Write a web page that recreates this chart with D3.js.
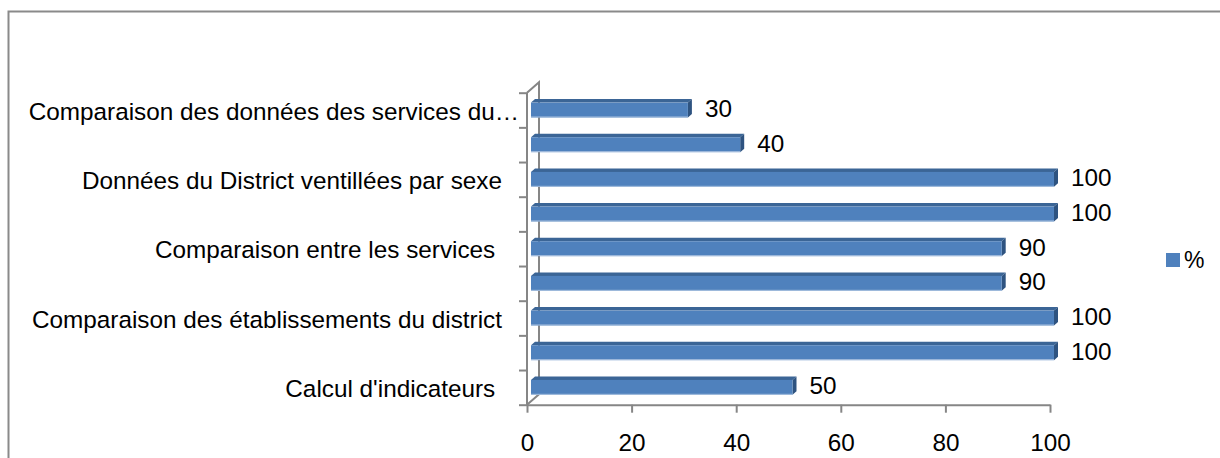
<!DOCTYPE html>
<html>
<head>
<meta charset="utf-8">
<script src="https://cdn.jsdelivr.net/npm/d3@7"></script>
<style>
  html, body { margin: 0; padding: 0; background: #fff; }
  svg { display: block; }
  text { font-family: "Liberation Sans", Arial, sans-serif; fill: #000; white-space: pre; }
</style>
</head>
<body>
<svg id="chart" width="1220" height="458"></svg>
<script>
// ---- data ----
const categories = [
  "Comparaison des données des services du…",
  "",
  "Données du District ventillées par sexe",
  "",
  "Comparaison entre les services ",
  "",
  "Comparaison des établissements du district",
  "",
  "Calcul d'indicateurs "
];
const values = [30, 40, 100, 100, 90, 90, 100, 100, 50];
const xTickValues = [0, 20, 40, 60, 80, 100];
const seriesName = "%";

(function () {
// ---- layout ----
const svg = d3.select("#chart");
const fontSize = 24.3;
const pLeft = 527, pRight = 1050, pTop = 92.7, pBottom = 404.7;
const depth = { dx: 12, dy: -10.5 };      // back wall offset
const barShift = { dx: 4, dy: -3.5 };     // bar front face offset
const barDepth = { dx: 4, dy: -3.5 };     // bar thickness in depth
const gray = "#868686";

const x = d3.scaleLinear().domain([0, 100]).range([pLeft, pRight]);
const idx = d3.range(categories.length);
const y = d3.scaleBand().domain(idx).range([pTop, pBottom]);
const yEdge = d3.scaleLinear().domain([0, categories.length]).range([pTop, pBottom]);

// outer chart border
svg.append("rect")
  .attr("x", 8.5).attr("y", 11.5)
  .attr("width", 1240).attr("height", 480)
  .attr("fill", "none").attr("stroke", "#8a8a8a").attr("stroke-width", 2);

// walls outline
const walls = svg.append("g").attr("stroke", gray).attr("stroke-width", 2).attr("fill", "none");
walls.append("path").attr("d",
  `M${pLeft},${pTop} L${pLeft + depth.dx},${pTop + depth.dy} L${pLeft + depth.dx},${pBottom + depth.dy} L${pLeft},${pBottom}`);
walls.append("line").attr("x1", pLeft).attr("y1", pTop).attr("x2", pLeft).attr("y2", pBottom);

// category axis (ticks at band edges)
const yAxis = d3.axisLeft(yEdge).tickValues(d3.range(categories.length + 1)).tickSize(8).tickFormat("");
const gy = svg.append("g").attr("transform", `translate(${pLeft},0)`).call(yAxis);
gy.select(".domain").remove();
gy.selectAll(".tick line").attr("stroke", gray).attr("stroke-width", 2);

// value axis
const xAxis = d3.axisBottom(x).tickValues(xTickValues).tickSize(8).tickPadding(21).tickSizeOuter(0);
const gx = svg.append("g").attr("transform", `translate(0,${pBottom})`).call(xAxis);
gx.select(".domain").attr("stroke", gray).attr("stroke-width", 2);
gx.selectAll(".tick line").attr("stroke", gray).attr("stroke-width", 2);
gx.selectAll(".tick text")
  .style("font-family", '"Liberation Sans", Arial, sans-serif')
  .style("font-size", fontSize + "px").attr("fill", "#000");

// category labels
svg.append("g").selectAll("text").data(idx).join("text")
  .attr("x", i => categories[i].endsWith("…") ? 519 : 502)
  .attr("y", i => y(i) + y.bandwidth() / 2 + 1)
  .attr("text-anchor", "end")
  .attr("dominant-baseline", "central")
  .style("font-size", fontSize + "px")
  .text(i => categories[i]);

// 3D bars
const barH = y.bandwidth() * 0.43;
const bars = svg.append("g").selectAll("g").data(idx).join("g");
bars.each(function (i) {
  const g = d3.select(this);
  const x0 = x(0) + barShift.dx, x1 = x(values[i]) + barShift.dx;
  const y0 = y(i) + y.bandwidth() / 2 + barShift.dy - barH / 2 + 3.5, y1 = y0 + barH;
  const ddx = barDepth.dx, ddy = barDepth.dy;
  g.append("path")
    .attr("d", `M${x0},${y0} L${x1},${y0} L${x1 + ddx},${y0 + ddy} L${x0 + ddx},${y0 + ddy} Z`)
    .attr("fill", "#3b6596");
  g.append("path")
    .attr("d", `M${x1},${y0} L${x1 + ddx},${y0 + ddy} L${x1 + ddx},${y1 + ddy} L${x1},${y1} Z`)
    .attr("fill", "#2e5380");
  g.append("rect")
    .attr("x", x0).attr("y", y0)
    .attr("width", x1 - x0).attr("height", barH)
    .attr("fill", "#4f81bd");
  g.append("line")
    .attr("x1", x0).attr("x2", x1).attr("y1", y1 - 0.5).attr("y2", y1 - 0.5)
    .attr("stroke", "#a9c1df").attr("stroke-width", 1);
});

// value labels
svg.append("g").selectAll("text").data(idx).join("text")
  .attr("x", i => x(values[i]) + 21)
  .attr("y", i => y(i) + y.bandwidth() / 2 - 1.5)
  .attr("dominant-baseline", "central")
  .style("font-size", fontSize + "px")
  .text(i => values[i]);

// legend
const lg = svg.append("g");
lg.append("rect").attr("x", 1166).attr("y", 253).attr("width", 14).attr("height", 14).attr("fill", "#4f81bd");
lg.append("text").attr("x", 1184).attr("y", 260).attr("dominant-baseline", "central")
  .style("font-size", "23px").text(seriesName);
})();
</script>
</body>
</html>
